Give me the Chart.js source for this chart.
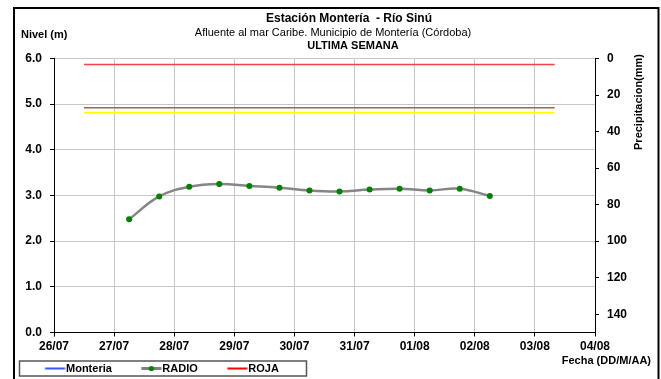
<!DOCTYPE html>
<html>
<head>
<meta charset="utf-8">
<script src="https://cdn.jsdelivr.net/npm/chart.js@4"></script>
<style>
  html, body { margin: 0; padding: 0; background: #fff; }
  canvas { display: block; }
</style>
</head>
<body>
<canvas id="grafNivel" width="661" height="379"></canvas>
<script>
// eje X: dias (0 = 26/07)
const fechas = ["26/07","27/07","28/07","29/07","30/07","31/07","01/08","02/08","03/08","04/08"];

// lecturas RADIO cada 12 h (dia desde 26/07)
const radioDias  = [1.25, 1.75, 2.25, 2.75, 3.25, 3.75, 4.25, 4.75, 5.25, 5.75, 6.25, 6.75, 7.25];
const radioNivel = [2.48, 2.98, 3.19, 3.25, 3.21, 3.17, 3.11, 3.09, 3.13, 3.15, 3.11, 3.15, 2.99];

// umbrales (m)
const nivelRoja = 5.87;
const nivelNaranja = 4.92;
const nivelAmarilla = 4.81;
const umbralDias = [0.5, 8.33];

// precipitacion (eje derecho, sin datos esta semana)
const precipTicks = [0, 20, 40, 60, 80, 100, 120, 140];

const FUENTE = '"Liberation Sans", Arial, sans-serif';

function tramo(nivel) {
  return umbralDias.map(d => ({x: d, y: nivel}));
}

// simbolos de la leyenda
function simbolo(color, punto) {
  const c = document.createElement("canvas");
  c.width = 50; c.height = 9;
  const g = c.getContext("2d");
  g.strokeStyle = color;
  g.lineWidth = punto ? 3 : 2;
  g.beginPath(); g.moveTo(29.5, 4.5); g.lineTo(49.5, 4.5); g.stroke();
  if (punto) {
    g.fillStyle = "#008000";
    g.beginPath(); g.arc(39.5, 4.5, 2.6, 0, Math.PI * 2); g.fill();
  }
  return c;
}
const simbolos = [simbolo("#3355ff", false), simbolo("#808080", true), simbolo("#ff0000", false)];

// textos, marco y recuadro de leyenda
const decorado = {
  id: "decorado",
  beforeDraw(chart) {
    const ctx = chart.ctx;
    ctx.save();
    ctx.fillStyle = "#fff";
    ctx.fillRect(0, 0, chart.width, chart.height);
    ctx.restore();
  },
  afterDraw(chart) {
    const ctx = chart.ctx;
    ctx.save();
    ctx.fillStyle = "#000";
    ctx.textBaseline = "middle";

    ctx.textAlign = "center";
    ctx.font = "bold 12px " + FUENTE;
    ctx.fillText("Estación Montería  - Río Sinú", 349, 19);
    ctx.font = "11px " + FUENTE;
    ctx.fillText("Afluente al mar Caribe. Municipio de Montería (Córdoba)", 333, 33);
    ctx.font = "bold 11px " + FUENTE;
    ctx.fillText("ULTIMA SEMANA", 353, 46);

    ctx.textAlign = "left";
    ctx.fillText("Nivel (m)", 21, 35);
    ctx.textAlign = "right";
    ctx.fillText("Fecha (DD/M/AA)", 651, 361);

    ctx.save();
    ctx.translate(639, 102);
    ctx.rotate(-Math.PI / 2);
    ctx.textAlign = "center";
    ctx.fillText("Precipitacion(mm)", 0, 0);
    ctx.restore();

    // recuadro leyenda
    ctx.strokeStyle = "#555";
    ctx.lineWidth = 1.5;
    ctx.strokeRect(19.5, 361, 287, 15);

    // marco exterior
    ctx.strokeStyle = "#000";
    ctx.lineWidth = 2;
    ctx.strokeRect(14, 8, 644.5, 390);
    ctx.restore();
  }
};

const ctx = document.getElementById("grafNivel").getContext("2d");
new Chart(ctx, {
  type: "line",
  data: {
    datasets: [
      { label: "Monteria", data: [], borderColor: "#3355ff", backgroundColor: "#3355ff", borderWidth: 2, pointRadius: 0 },
      {
        label: "RADIO",
        data: radioDias.map((d, i) => ({x: d, y: radioNivel[i]})),
        borderColor: "#858585",
        borderWidth: 2.5,
        tension: 0.4,
        pointRadius: 3,
        pointBackgroundColor: "#008000",
        pointBorderColor: "#008000",
        pointBorderWidth: 0
      },
      { label: "ROJA", data: tramo(nivelRoja), borderColor: "#ff4040", borderWidth: 1.5, pointRadius: 0 },
      { label: "NARANJA", data: tramo(nivelNaranja), borderColor: "#b8601e", borderWidth: 1.5, pointRadius: 0 },
      { label: "AMARILLA", data: tramo(nivelAmarilla), borderColor: "#ffff00", borderWidth: 1.5, pointRadius: 0 }
    ]
  },
  options: {
    responsive: false,
    animation: false,
    layout: { padding: { left: 15.5, right: 0, top: 58.5, bottom: 3 } },
    plugins: {
      title: { display: false },
      tooltip: { enabled: false },
      legend: {
        position: "bottom",
        align: "start",
        maxHeight: 18,
        labels: {
          usePointStyle: true,
          pointStyleWidth: 40,
          padding: 5,
          color: "#000",
          font: { family: FUENTE, size: 11, weight: "bold" },
          generateLabels(chart) {
            const items = Chart.defaults.plugins.legend.labels.generateLabels(chart);
            return items.filter(it => it.datasetIndex < 3).map(it => {
              it.pointStyle = simbolos[it.datasetIndex];
              it.fontColor = "#000";
              return it;
            });
          }
        }
      }
    },
    scales: {
      x: {
        type: "linear",
        min: 0, max: fechas.length - 1,
        afterFit(s) { s.height = 25.5; },
        ticks: {
          stepSize: 1, autoSkip: false, maxRotation: 0, padding: 3,
          color: "#000",
          font: { family: FUENTE, size: 12, weight: "bold" },
          callback: v => fechas[v]
        },
        grid: { color: "#c8c8c8", tickColor: "#000", tickLength: 4 },
        border: { color: "#000", width: 1 }
      },
      y: {
        position: "left",
        min: 0, max: 6,
        afterFit(s) { s.width = 38.5; },
        ticks: {
          stepSize: 1, padding: 8, color: "#000",
          font: { family: FUENTE, size: 12, weight: "bold" },
          callback: v => v.toFixed(1)
        },
        grid: { color: "#c8c8c8", tickColor: "#000", tickLength: 4 },
        border: { color: "#000", width: 1 }
      },
      yPrecip: {
        type: "linear",
        position: "right",
        display: true,
        reverse: true,
        min: 0, max: 150,
        afterFit(s) { s.width = 66; },
        afterBuildTicks(s) { s.ticks = precipTicks.map(v => ({value: v})); },
        ticks: {
          padding: 8, color: "#000",
          font: { family: FUENTE, size: 12, weight: "bold" }
        },
        grid: { drawOnChartArea: false, tickColor: "#000", tickLength: 4 },
        border: { color: "#000", width: 1 }
      }
    }
  },
  plugins: [decorado]
});
</script>
</body>
</html>
